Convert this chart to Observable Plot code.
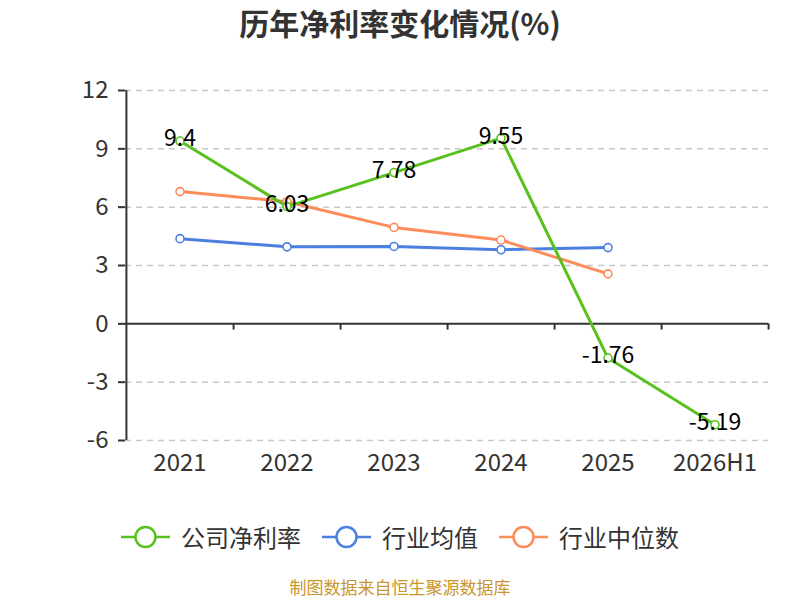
<!DOCTYPE html>
<html><head><meta charset="utf-8">
<script src="https://cdn.jsdelivr.net/npm/d3@7"></script>
<script src="https://cdn.jsdelivr.net/npm/@observablehq/plot@0.6"></script>
<style>
body{margin:0;background:#fff;font-family:"Noto Sans CJK SC","Noto Sans",sans-serif;}
#wrap{position:relative;width:800px;height:600px;overflow:hidden;}
#title{position:absolute;top:0px;left:0;width:800px;text-align:center;font-size:30px;line-height:44px;font-weight:bold;color:#333;}
#chart{position:absolute;top:50px;left:0;}
#ylab{position:absolute;left:48px;top:113px;color:#e00;font-size:16px;line-height:22px;transform:rotate(-90deg);transform-origin:center;}
#legend{position:absolute;top:520px;left:0;width:800px;height:34px;display:flex;justify-content:center;align-items:center;font-size:24px;line-height:34px;color:#333;}
.item{display:flex;align-items:center;margin:0 10.5px;}
.item svg{margin-right:11px;}
#caption{position:absolute;top:577px;left:0;width:800px;text-align:center;font-size:17px;line-height:20px;color:#c9962b;}
</style></head>
<body><div id="wrap">
<div id="title">历年净利率变化情况(%)</div>
<div id="ylab">(%)</div>
<div id="chart"></div>
<div id="legend"></div>
<div id="caption">制图数据来自恒生聚源数据库</div>
</div>
<script>
const years = ["2021","2022","2023","2024","2025","2026H1"];
const seriesNames = ["公司净利率","行业均值","行业中位数"];
const companyValues = [9.4, 6.03, 7.78, 9.55, -1.76, -5.19];
const industryAvg = [4.38, 3.96, 3.98, 3.81, 3.92];
const industryMedian = [6.8, 6.28, 4.96, 4.31, 2.57];
const yTicks = [-6, -3, 0, 3, 6, 9, 12];
const colors = ["#58c11e", "#4b80e0", "#fd8c5b"];

const toRows = (vals) => vals.map((v, i) => ({x: years[i], y: v}));
const rowsC = toRows(companyValues);
const rowsA = toRows(industryAvg);
const rowsM = toRows(industryMedian);

const W = 800, H = 450, mL = 125, mR = 32;
const bw = (W - mL - mR) / years.length;

const plot = Plot.plot({
  width: W, height: H,
  marginLeft: mL, marginRight: mR, marginTop: 40, marginBottom: 60,
  style: {fontFamily: '"Noto Sans CJK SC","Noto Sans",sans-serif', background: "#fff"},
  x: {type: "band", domain: years, padding: 0, label: null},
  y: {domain: [yTicks[0], yTicks[yTicks.length-1]], label: null},
  marks: [
    Plot.gridY(yTicks.filter(t => t !== 0), {stroke: "#c8c8c8", strokeOpacity: 1, strokeDasharray: "6,5", strokeWidth: 1.5}),
    Plot.axisY({ticks: yTicks, tickSize: 7, tickPadding: 10, fontSize: 24, tickFormat: d => String(d), color: "#333", stroke: "#333", strokeWidth: 2, label: null}),
    Plot.axisX({tickSize: 0, tickPadding: 13, fontSize: 24, color: "#333", label: null}),
    Plot.ruleX([years[0]], {dx: -bw/2, y1: yTicks[0], y2: yTicks[yTicks.length-1], stroke: "#333", strokeWidth: 2}),
    Plot.ruleY([0], {stroke: "#333", strokeWidth: 2}),
    Plot.ruleX(years, {dx: bw/2, y1: 0, y2: -0.32, stroke: "#333", strokeWidth: 2}),
    Plot.line(rowsA, {x: "x", y: "y", stroke: colors[1], strokeWidth: 3}),
    Plot.line(rowsM, {x: "x", y: "y", stroke: colors[2], strokeWidth: 3}),
    Plot.line(rowsC, {x: "x", y: "y", stroke: colors[0], strokeWidth: 3}),
    Plot.dot(rowsA, {x: "x", y: "y", r: 4, fill: "#fff", stroke: colors[1], strokeWidth: 1.6}),
    Plot.dot(rowsM, {x: "x", y: "y", r: 4, fill: "#fff", stroke: colors[2], strokeWidth: 1.6}),
    Plot.dot(rowsC, {x: "x", y: "y", r: 4, fill: "#fff", stroke: colors[0], strokeWidth: 1.6}),
    Plot.text(rowsC, {x: "x", y: "y", text: d => String(d.y), fontSize: 23, fill: "#000", dy: -2})
  ]
});
document.getElementById("chart").appendChild(plot);

const legend = document.getElementById("legend");
seriesNames.forEach((name, i) => {
  const item = document.createElement("div");
  item.className = "item";
  item.innerHTML = `<svg width="49" height="26"><line x1="0" y1="13" x2="49" y2="13" stroke="${colors[i]}" stroke-width="2.5"/><circle cx="24.5" cy="13" r="10" fill="#fff" stroke="${colors[i]}" stroke-width="2.5"/></svg><span>${name}</span>`;
  legend.appendChild(item);
});
</script>
</body></html>
